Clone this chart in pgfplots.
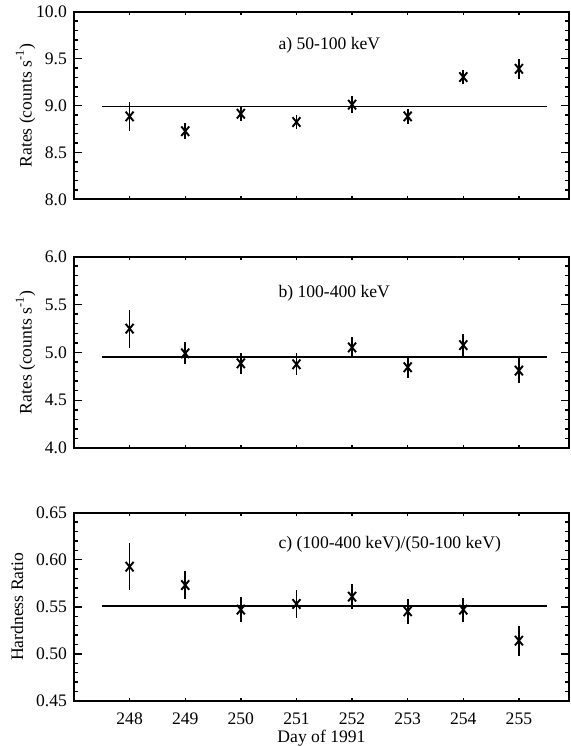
\documentclass[border=0pt]{standalone}
\usepackage{pgfplots}
\pgfplotsset{compat=1.18}
\usepackage{fontspec}
\setmainfont{Liberation Serif}

\newcommand{\fs}{\fontsize{8.8}{10}\selectfont}

\pgfplotsset{
  panel/.style={
    scale only axis, width=247.5pt,
    xmin=247, xmax=255.9,
    xtick={248,...,255}, xticklabels={},
    tick align=inside, xtick pos=both, ytick pos=both,
    major tick length=4pt, minor tick length=2pt,
    xtick style={/pgfplots/major tick length=1.6pt},
    minor y tick num=4,
    axis line style={line width=1pt},
    tick style={line width=0.7pt, black},
    /pgf/number format/assume math mode=true,
    tick label style={font=\fs},
    label style={font=\fs},
    ylabel style={at={(axis description cs:-0.098,0.5)}, anchor=center},
    yticklabel style={/pgf/number format/fixed, /pgf/number format/fixed zerofill},
    clip=false,
  },
  pts/.style={black, only marks, mark=x, mark size=2.8pt,
    mark options={yscale=1.2, line width=0.95pt},
    error bars/.cd, y dir=both, y explicit, error mark=none,
    error bar style={line width=0.85pt}},
  fit/.style={black, line width=0.9pt, no marks},
}

\begin{document}
\begin{tikzpicture}
\useasboundingbox (0,0) rectangle (285.5pt,373pt);

% a) 50-100 keV
\begin{axis}[panel, at={(37pt,273.3pt)}, anchor=south west, height=93.8pt,
  ymin=8, ymax=10, ytick={8,8.5,...,10},
  yticklabel style={/pgf/number format/precision=1},
  ylabel={Rates (counts s\textsuperscript{-1})}]
\addplot[fit] coordinates {(247.5,8.99) (255.5,8.99)};
\addplot[pts] coordinates {
  (248,8.885) +- (0,0.152)
  (249,8.727) +- (0,0.087)
  (250,8.913) +- (0,0.082)
  (251,8.825) +- (0,0.075)
  (252,9.010) +- (0,0.093)
  (253,8.885) +- (0,0.082)
  (254,9.304) +- (0,0.079)
  (255,9.392) +- (0,0.108)
};
\node[anchor=west, font=\fs] at (axis cs:250.55,9.64) {a) 50-100 keV};
\end{axis}

% b) 100-400 keV
\begin{axis}[panel, at={(37pt,148.9pt)}, anchor=south west, height=95.8pt,
  ymin=4, ymax=6, ytick={4,4.5,...,6},
  yticklabel style={/pgf/number format/precision=1},
  ylabel={Rates (counts s\textsuperscript{-1})}]
\addplot[fit] coordinates {(247.5,4.952) (255.5,4.952)};
\addplot[pts] coordinates {
  (248,5.248) +- (0,0.197)
  (249,4.990) +- (0,0.115)
  (250,4.886) +- (0,0.108)
  (251,4.876) +- (0,0.114)
  (252,5.052) +- (0,0.109)
  (253,4.845) +- (0,0.117)
  (254,5.076) +- (0,0.112)
  (255,4.810) +- (0,0.134)
};
\node[anchor=west, font=\fs] at (axis cs:250.55,5.62) {b) 100-400 keV};
\end{axis}

% c) hardness ratio
\begin{axis}[panel, at={(37pt,22.5pt)}, anchor=south west, height=94.2pt,
  ymin=0.45, ymax=0.65, ytick={0.45,0.50,...,0.65},
  yticklabel style={/pgf/number format/precision=2},
  xticklabels={248,249,250,251,252,253,254,255},
  xticklabel style={yshift=-2.5pt},
  ylabel={Hardness Ratio},
  ylabel style={at={(axis description cs:-0.115,0.5)}},
  xlabel={Day of 1991},
  xlabel style={at={(axis description cs:0.5,0)}, yshift=-18.5pt, anchor=center}]
\addplot[fit] coordinates {(247.5,0.5512) (255.5,0.5512)};
\addplot[pts] coordinates {
  (248,0.5926) +- (0,0.025)
  (249,0.5731) +- (0,0.015)
  (250,0.5470) +- (0,0.0135)
  (251,0.5530) +- (0,0.0145)
  (252,0.5608) +- (0,0.013)
  (253,0.5452) +- (0,0.0135)
  (254,0.5470) +- (0,0.0127)
  (255,0.5141) +- (0,0.016)
};
\node[anchor=west, font=\fs] at (axis cs:250.55,0.616) {c) (100-400 keV)/(50-100 keV)};
\end{axis}
\end{tikzpicture}
\end{document}
